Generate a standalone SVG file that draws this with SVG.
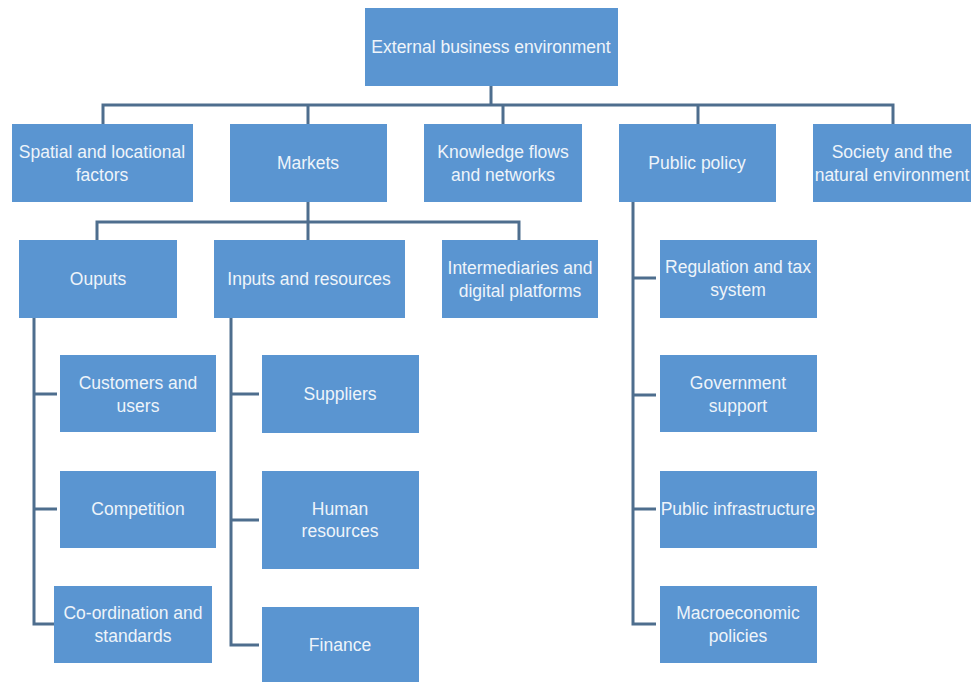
<svg xmlns="http://www.w3.org/2000/svg" width="971" height="682" viewBox="0 0 971 682">
<style>
.box{fill:#5a95d1;}
.lbl{font-family:"Liberation Sans",Arial,sans-serif;font-size:17.5px;fill:#eef4fa;text-anchor:middle;dominant-baseline:central;}
.con{fill:none;stroke:#4e6e8e;stroke-width:3;stroke-linecap:butt;stroke-linejoin:miter;}
</style>
<rect width="971" height="682" fill="#ffffff"/>
<g id="connectors">
<path class="con" d="M491 86V105M103 124V105H893V124M308 105V124M503 105V124M698 105V124"/>
<path class="con" d="M308 202V222M97 240V222H519V240M308 222V240"/>
<path class="con" d="M34 318V624H54M34 394H57M34 509H57"/>
<path class="con" d="M231 318V645H259M231 394H259M231 520H259"/>
<path class="con" d="M633 202V624H656M633 278H656M633 395H656M633 509H656"/>
</g>
<g id="n-external"><rect class="box" x="365" y="8" width="253" height="78"/><text class="lbl" x="491" y="47">External business environment</text></g>
<g id="n-spatial"><rect class="box" x="12" y="124" width="181" height="78"/><text class="lbl" x="102" y="152">Spatial and locational</text><text class="lbl" x="102" y="175">factors</text></g>
<g id="n-markets"><rect class="box" x="230" y="124" width="157" height="78"/><text class="lbl" x="308" y="163">Markets</text></g>
<g id="n-knowledge"><rect class="box" x="424" y="124" width="158" height="78"/><text class="lbl" x="503" y="152">Knowledge flows</text><text class="lbl" x="503" y="175">and networks</text></g>
<g id="n-policy"><rect class="box" x="619" y="124" width="157" height="78"/><text class="lbl" x="697" y="163">Public policy</text></g>
<g id="n-society"><rect class="box" x="813" y="124" width="158" height="78"/><text class="lbl" x="892" y="152">Society and the</text><text class="lbl" x="892" y="175">natural environment</text></g>
<g id="n-ouputs"><rect class="box" x="19" y="240" width="158" height="78"/><text class="lbl" x="98" y="279">Ouputs</text></g>
<g id="n-inputs"><rect class="box" x="214" y="240" width="191" height="78"/><text class="lbl" x="309" y="279">Inputs and resources</text></g>
<g id="n-intermediaries"><rect class="box" x="442" y="240" width="156" height="78"/><text class="lbl" x="520" y="268">Intermediaries and</text><text class="lbl" x="520" y="291">digital platforms</text></g>
<g id="n-customers"><rect class="box" x="60" y="355" width="156" height="77"/><text class="lbl" x="138" y="383">Customers and</text><text class="lbl" x="138" y="406">users</text></g>
<g id="n-competition"><rect class="box" x="60" y="471" width="156" height="77"/><text class="lbl" x="138" y="509">Competition</text></g>
<g id="n-coordination"><rect class="box" x="54" y="586" width="158" height="77"/><text class="lbl" x="133" y="613">Co-ordination and</text><text class="lbl" x="133" y="636">standards</text></g>
<g id="n-suppliers"><rect class="box" x="262" y="355" width="157" height="78"/><text class="lbl" x="340" y="394">Suppliers</text></g>
<g id="n-human"><rect class="box" x="262" y="471" width="157" height="98"/><text class="lbl" x="340" y="509">Human</text><text class="lbl" x="340" y="531">resources</text></g>
<g id="n-finance"><rect class="box" x="262" y="607" width="157" height="80"/><text class="lbl" x="340" y="645">Finance</text></g>
<g id="n-regulation"><rect class="box" x="660" y="240" width="157" height="78"/><text class="lbl" x="738" y="267">Regulation and tax</text><text class="lbl" x="738" y="290">system</text></g>
<g id="n-government"><rect class="box" x="660" y="355" width="157" height="77"/><text class="lbl" x="738" y="383">Government</text><text class="lbl" x="738" y="406">support</text></g>
<g id="n-infrastructure"><rect class="box" x="660" y="471" width="157" height="77"/><text class="lbl" x="738" y="509">Public infrastructure</text></g>
<g id="n-macro"><rect class="box" x="660" y="586" width="157" height="77"/><text class="lbl" x="738" y="613">Macroeconomic</text><text class="lbl" x="738" y="636">policies</text></g>
</svg>
